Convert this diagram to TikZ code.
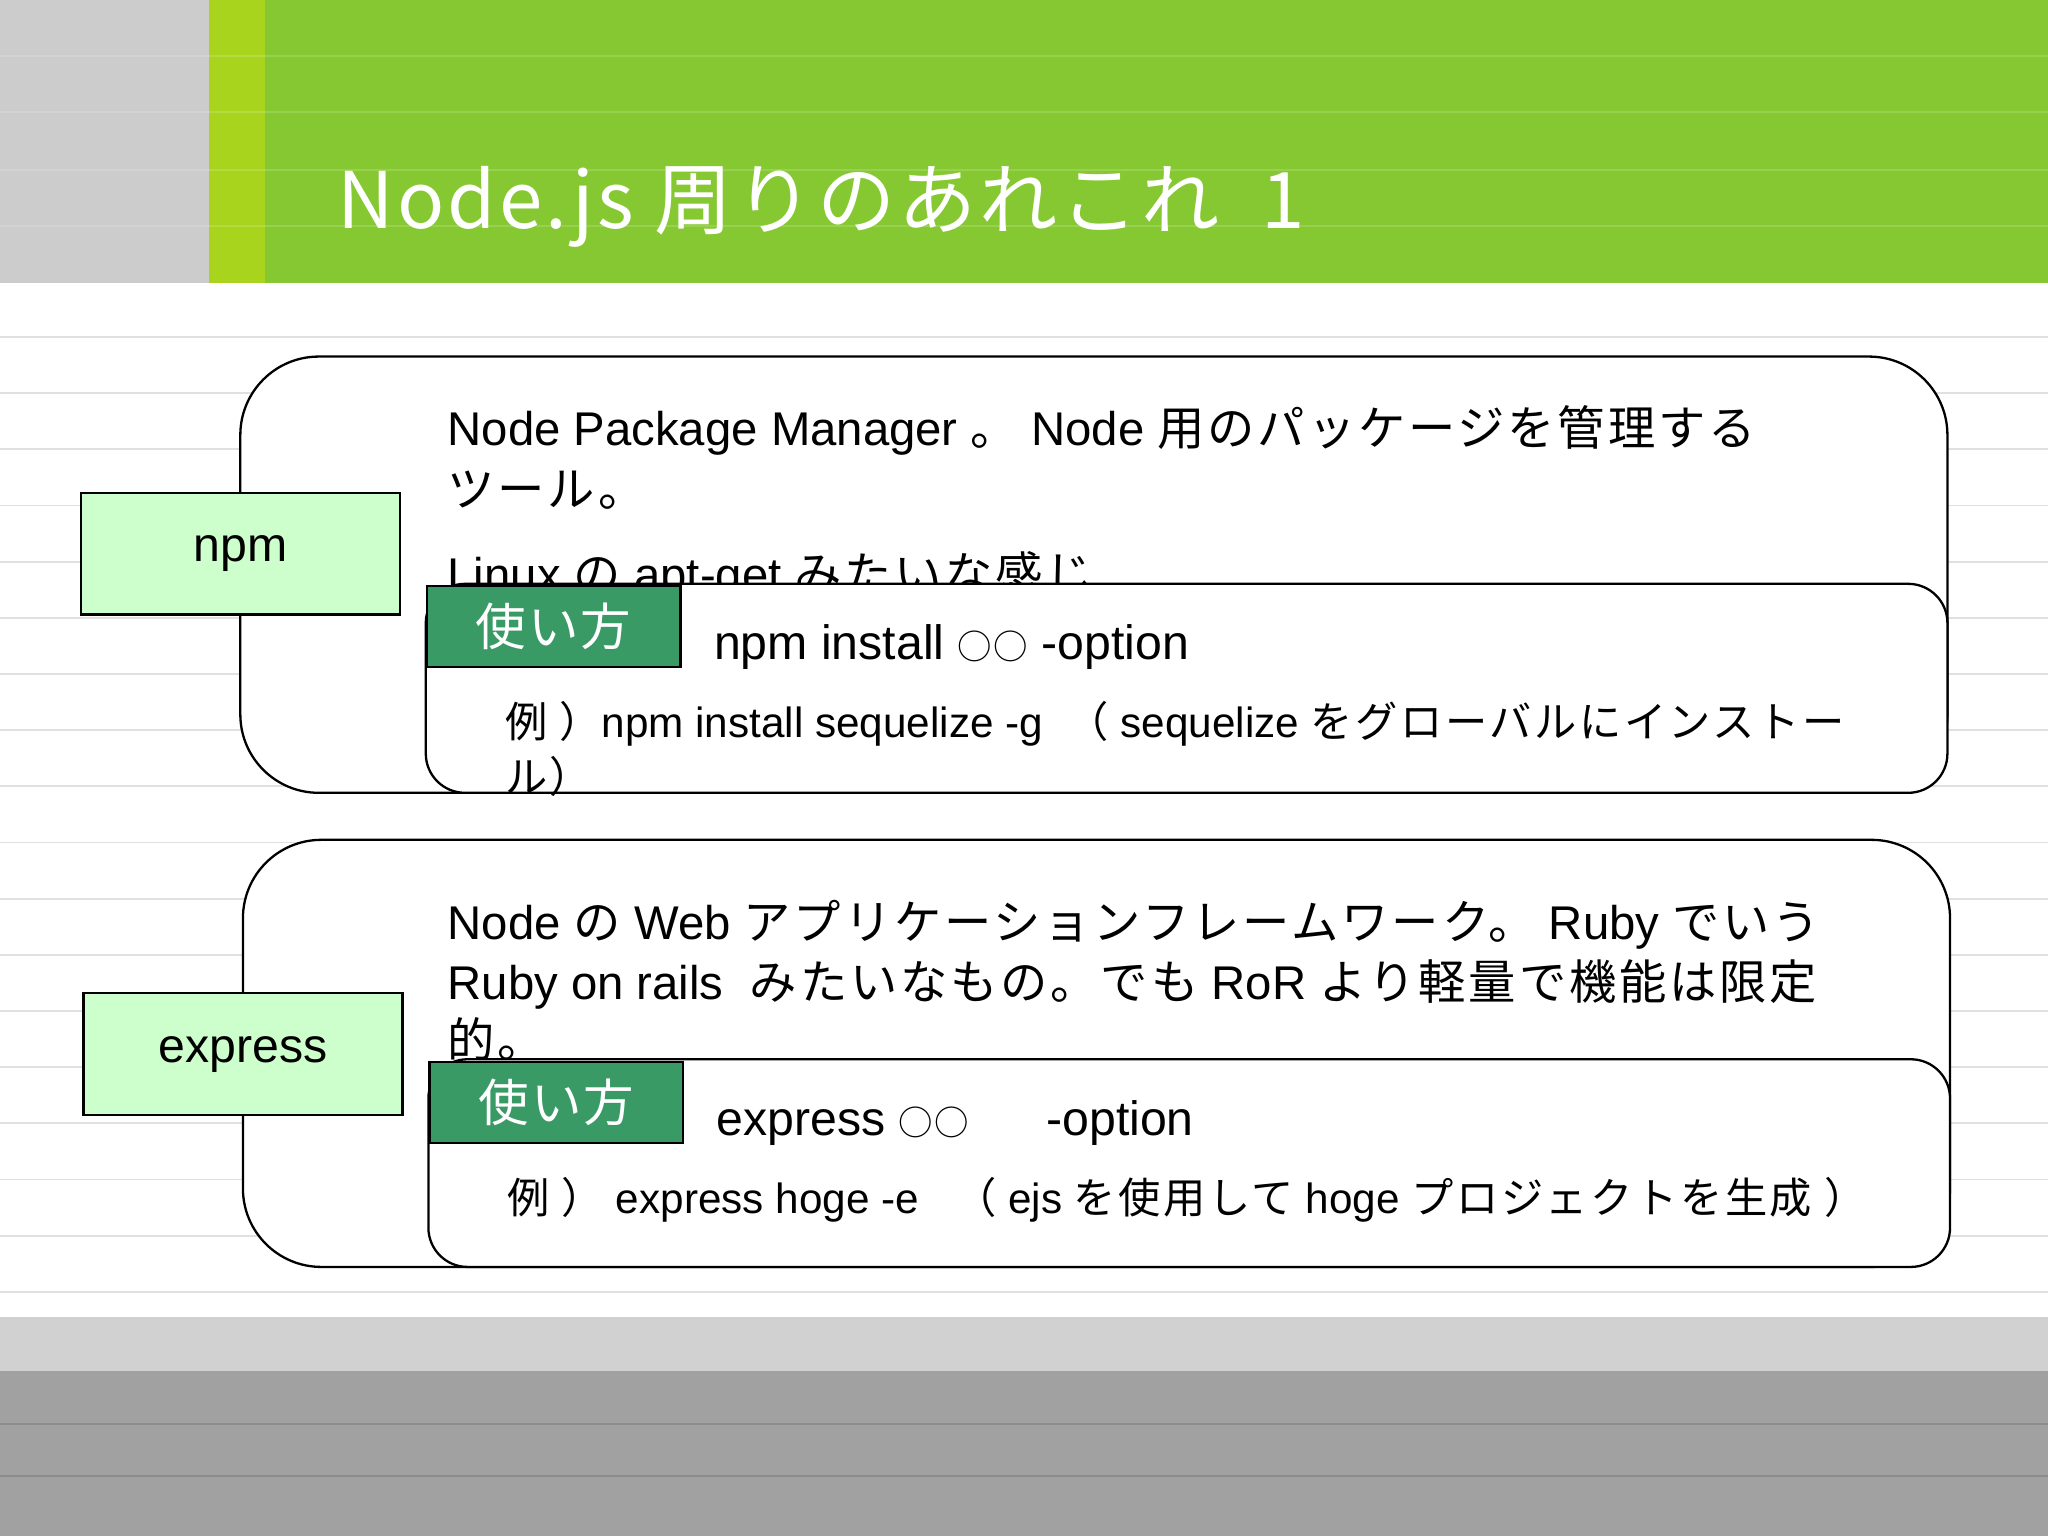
\documentclass[tikz,border=0pt]{standalone}
\usepackage{fontspec}
\setmainfont{Liberation Sans}
\newfontfamily\jp[LetterSpace=6]{Noto Sans CJK JP}
\newfontfamily\jpt[LetterSpace=4]{Noto Sans CJK JP}
\definecolor{gbar}{HTML}{86C832}
\definecolor{gstrip}{HTML}{A8D41E}
\definecolor{tagg}{HTML}{3A9A66}
\definecolor{lbl}{HTML}{CCFFCC}
\tikzset{
 txt/.style={anchor=base west,inner sep=0pt,font=\fontsize{10.3pt}{12pt}\selectfont},
 small/.style={anchor=base west,inner sep=0pt,font=\fontsize{9.2pt}{11pt}\selectfont},
 outer/.style={draw=black,line width=0.5pt,rounded corners=0.6cm,fill=white},
 inner/.style={draw=black,line width=0.5pt,rounded corners=0.3cm,fill=white},
 lab/.style={draw=black,line width=0.5pt,fill=lbl,minimum width=2.44cm,minimum height=0.93cm,font=\fontsize{10.5pt}{12pt}\selectfont,inner sep=0pt},
 tag/.style={draw=black,line width=0.5pt,fill=tagg,text=white,minimum width=1.94cm,minimum height=0.62cm,font=\jpt\fontsize{11pt}{12pt}\selectfont,inner sep=0pt},
}
\newcommand\oo{{\fontsize{7.5pt}{9pt}\selectfont\jpt ○○}}
\begin{document}
\begin{tikzpicture}[x=0.01cm,y=-0.01cm]
\useasboundingbox (0,0) rectangle (1568,1176);
\fill[white] (0,0) rectangle (1568,1176);
\foreach \y in {43,86,...,1010} \draw[black!12,line width=0.4pt] (0,\y) -- (1568,\y);
\fill[black!20] (0,0) rectangle (160,217);
\fill[gbar] (160,0) rectangle (1568,217);
\fill[gstrip] (160,0) rectangle (203,217);
\foreach \y in {43,86,130,173} \draw[white,opacity=0.15,line width=0.4pt] (0,\y) -- (1568,\y);
\fill[black!18] (0,1008) rectangle (1568,1050);
\fill[black!37] (0,1050) rectangle (1568,1176);
\foreach \y in {1090,1130} \draw[black!45,line width=0.4pt] (0,\y) -- (1568,\y);
\node[anchor=base west,inner sep=0pt,text=white,font=\jpt\fontsize{17pt}{20pt}\selectfont] (title) at (258,175) {Node.js 周りのあれこれ\ \ 1};
% box 1
\draw[outer] (184,273) rectangle (1491,607);
\node[lab] (npm) at (184,424) {npm};
\node[txt] (t1) at (342,341) {Node Package Manager {\jp 。} Node {\jp 用のパッケージを管理する}};
\node[txt] (t2) at (342,388) {\jp ツール。};
\node[txt] (t3) at (342,453) {Linux {\jp の} apt-get {\jp みたいな感じ}};
\draw[inner] (326,447) rectangle (1491,607);
\node[tag,anchor=north west] (u1) at (326,448) {使い方};
\node[txt,font=\fontsize{10.5pt}{12pt}\selectfont] (c1) at (546,505) {npm install \oo\ -option};
\node[small] (e1) at (386,565) {{\jp 例 ）}npm install sequelize -g \ {\jp （} sequelize {\jp をグローバルにインストー}};
\node[small] (e1b) at (386,607) {\jp ル）};
% box 2
\draw[outer] (186,643) rectangle (1493,970);
\node[lab] (exp) at (186,807) {express};
\node[txt] (s1) at (342,719) {Node {\jp の} Web {\jp アプリケーションフレームワーク。} Ruby {\jp でいう}};
\node[txt] (s2) at (342,765) {Ruby on rails \ {\jp みたいなもの。でも} RoR {\jp より軽量で機能は限定}};
\node[txt] (s3) at (342,810) {\jp 的。};
\draw[inner] (328,811) rectangle (1493,970);
\node[tag,anchor=north west] (u2) at (328,812) {使い方};
\node[txt,font=\fontsize{10.5pt}{12pt}\selectfont] (c2) at (548,869) {express \oo\hspace{1.6em}-option};
\node[small] (e2) at (388,929) {{\jp 例 ）} express hoge -e \ \ {\jp （} ejs {\jp を使用して} hoge {\jp プロジェクトを生成 ）}};
\end{tikzpicture}
\end{document}
